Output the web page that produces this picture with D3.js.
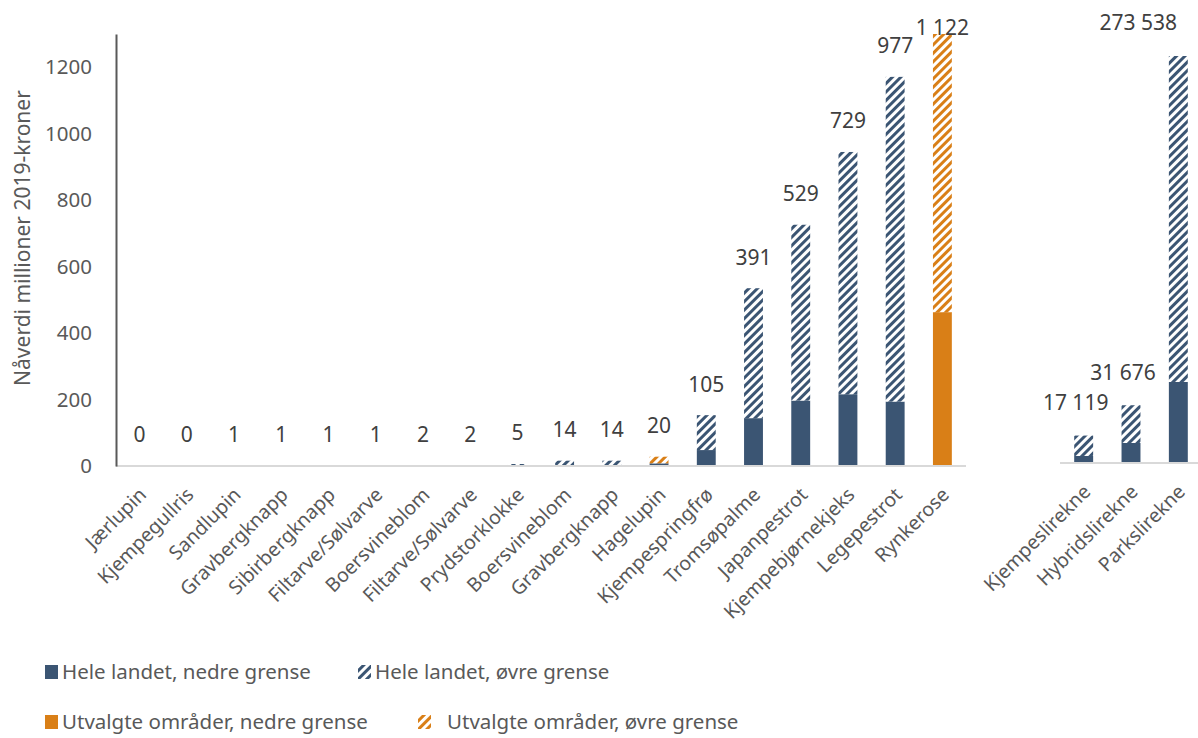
<!DOCTYPE html>
<html><head><meta charset="utf-8">
<script src="https://cdn.jsdelivr.net/npm/d3@7"></script>
<style>body{margin:0;background:#fff;} svg{display:block;font-family:"Noto Sans","Open Sans",sans-serif;}</style>
</head><body><svg id="c" width="1198" height="738"></svg>
<script>
// ---- data ----
const categoriesA = ["Jærlupin","Kjempegullris","Sandlupin","Gravbergknapp","Sibirbergknapp","Filtarve/Sølvarve","Boersvineblom","Filtarve/Sølvarve","Prydstorklokke","Boersvineblom","Gravbergknapp","Hagelupin","Kjempespringfrø","Tromsøpalme","Japanpestrot","Kjempebjørnekjeks","Legepestrot","Rynkerose"];
const heleNedreA  = [0,0,0,0,0,0,0,0,1,2,2,8,48,144,197,216,194,0];
const heleOvreA   = [0,0,1,1,1,1,2,2,5,14,14,0,105,391,529,729,977,0];
const utvNedreA   = [0,0,0,0,0,0,0,0,0,0,0,0,0,0,0,0,0,463];
const utvOvreA    = [0,0,0,0,0,0,0,0,0,0,0,20,0,0,0,0,0,1122];
const labelsA     = ["0","0","1","1","1","1","2","2","5","14","14","20","105","391","529","729","977","1 122"];

const categoriesB = ["Kjempeslirekne","Hybridslirekne","Parkslirekne"];
const heleNedreB  = [5900,16800,68000];
const heleOvreB   = [17119,31676,273538];
const labelsB     = ["17 119","31 676","273 538"];

const yTicks = [0,200,400,600,800,1000,1200];
const yTitle = "Nåverdi millioner 2019-kroner";
const legendNames = ["Hele landet, nedre grense","Hele landet, øvre grense","Utvalgte områder, nedre grense","Utvalgte områder, øvre grense"];

// ---- setup ----
const NAVY = "#3b5573", ORANGE = "#d97f17", TXT = "#595959", LBL = "#404040";
const svg = d3.select("#c");
const defs = svg.append("defs");
function hatch(id, color){
  const p = defs.append("pattern").attr("id", id).attr("patternUnits","userSpaceOnUse")
    .attr("width",6).attr("height",6).attr("patternTransform","rotate(45)");
  p.append("rect").attr("width",6).attr("height",6).attr("fill","#fff");
  p.append("rect").attr("width",3).attr("height",6).attr("fill",color);
}
hatch("hN", NAVY); hatch("hO", ORANGE);

// ---- left panel ----
const xA = d3.scaleBand().domain(d3.range(categoriesA.length)).range([116,966]).paddingInner(0.6).paddingOuter(0.3);
const yA = d3.scaleLinear().domain([0,1300]).range([466,34]);

const keys = ["heleNedre","utvNedre","heleOvre","utvOvre"];
const fillByKey = {heleNedre:NAVY, heleOvre:"url(#hN)", utvNedre:ORANGE, utvOvre:"url(#hO)"};
const rowsA = categoriesA.map((c,i)=>({i, heleNedre:heleNedreA[i], utvNedre:utvNedreA[i], heleOvre:heleOvreA[i], utvOvre:utvOvreA[i]}));
const stackA = d3.stack().keys(keys)(rowsA);

const clipA = defs.append("clipPath").attr("id","clipA");
clipA.append("rect").attr("x",116).attr("y",34).attr("width",850).attr("height",432);

const gA = svg.append("g").attr("clip-path","url(#clipA)");
stackA.forEach(layer=>{
  gA.selectAll(null).data(layer).enter().append("rect")
    .attr("x", d=>xA(d.data.i)).attr("width", xA.bandwidth())
    .attr("y", d=>yA(d[1])).attr("height", d=>Math.max(0, yA(d[0])-yA(d[1])))
    .attr("fill", fillByKey[layer.key]);
});

// baseline
svg.append("line").attr("x1",116).attr("x2",966).attr("y1",yA(0)).attr("y2",yA(0)).attr("stroke","#d9d9d9").attr("stroke-width",2);

// y axis
const axA = svg.append("g").attr("transform","translate(116,0)")
  .call(d3.axisLeft(yA).tickValues(yTicks).tickSize(0).tickSizeOuter(0).tickPadding(24).tickFormat(d3.format("d")));
axA.select(".domain").attr("stroke","#595959").attr("stroke-width",2);
axA.selectAll("text").attr("font-size",20.5).attr("fill",TXT).attr("font-family","Noto Sans");

// y title
svg.append("text").attr("transform","translate(30,238) rotate(-90)").attr("text-anchor","middle")
  .attr("font-size",21).attr("fill",TXT).text(yTitle);

// data labels left
const totA = rowsA.map(r=>r.heleNedre+r.utvNedre+r.heleOvre+r.utvOvre);
svg.selectAll(null).data(labelsA).enter().append("text")
  .attr("x",(d,i)=>xA(i)+xA.bandwidth()/2)
  .attr("y",(d,i)=>Math.max(yA(Math.min(totA[i],1300))-31, 28))
  .attr("dy","0.35em").attr("text-anchor","middle").attr("font-size",21).attr("fill",LBL).text(d=>d);

// category labels left
svg.selectAll(null).data(categoriesA).enter().append("text")
  .attr("transform",(d,i)=>`translate(${xA(i)+xA.bandwidth()/2+8},${yA(0)+30}) rotate(-45)`)
  .attr("text-anchor","end").attr("font-size",19.5).attr("fill",TXT).text(d=>d);

// ---- right panel ----
const xB = d3.scaleBand().domain(d3.range(categoriesB.length)).range([1060,1202]).paddingInner(0.6).paddingOuter(0.3);
const yB = d3.scaleLinear().domain([0,360000]).range([463,34]);
const rowsB = categoriesB.map((c,i)=>({i, heleNedre:heleNedreB[i], heleOvre:heleOvreB[i]}));
const stackB = d3.stack().keys(["heleNedre","heleOvre"])(rowsB);
stackB.forEach(layer=>{
  svg.selectAll(null).data(layer).enter().append("rect")
    .attr("x", d=>xB(d.data.i)).attr("width", xB.bandwidth())
    .attr("y", d=>yB(d[1])).attr("height", d=>yB(d[0])-yB(d[1]))
    .attr("fill", fillByKey[layer.key]);
});
svg.append("line").attr("x1",1060).attr("x2",1198).attr("y1",yB(0)).attr("y2",yB(0)).attr("stroke","#d9d9d9").attr("stroke-width",2);

const totB = rowsB.map(r=>r.heleNedre+r.heleOvre);
svg.selectAll(null).data(labelsB).enter().append("text")
  .attr("x",(d,i)=>xB(i)+xB.bandwidth()/2-8)
  .attr("y",(d,i)=>yB(totB[i])-33)
  .attr("dy","0.35em").attr("text-anchor","middle").attr("font-size",21).attr("fill",LBL).text(d=>d)
  .each(function(){
    const bb=this.getBBox(); const over = bb.x+bb.width-1177;
    if(over>0) d3.select(this).attr("x", +d3.select(this).attr("x")-over);
  });

svg.selectAll(null).data(categoriesB).enter().append("text")
  .attr("transform",(d,i)=>`translate(${xB(i)+xB.bandwidth()/2+8},${yB(0)+30}) rotate(-45)`)
  .attr("text-anchor","end").attr("font-size",19.5).attr("fill",TXT).text(d=>d);

// ---- legend ----
const legPos = [[45,672],[358,672],[45,722],[418,722]];
const legFill = [NAVY,"url(#hN)",ORANGE,"url(#hO)"];
legendNames.forEach((n,i)=>{
  const [lx,ly]=legPos[i];
  svg.append("rect").attr("x",lx).attr("y",ly-7).attr("width",13).attr("height",14).attr("fill",legFill[i]);
  svg.append("text").attr("x",lx+(i===3?29:17)).attr("y",ly).attr("dy","0.35em").attr("font-size",20.5).attr("fill",TXT).text(n);
});
</script></body></html>
